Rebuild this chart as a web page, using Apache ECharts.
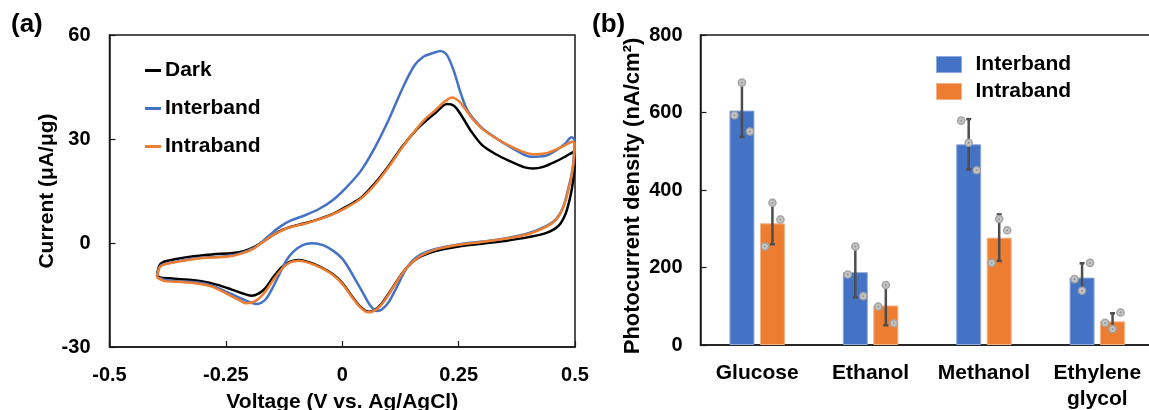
<!DOCTYPE html>
<html>
<head>
<meta charset="utf-8">
<script src="https://cdn.jsdelivr.net/npm/echarts@6/dist/echarts.min.js"></script>
<style>
  html, body { margin: 0; padding: 0; background: #fff; }
  #chart { width: 1149px; height: 410px; }
</style>
</head>
<body>
<div id="chart"></div>
<script>
// ---- (a) cyclic voltammograms: [potential (V vs. Ag/AgCl), current (µA/µg)] ----
const darkCurve = [
  [-0.398, -9.5], [-0.393, -6.5], [-0.385, -5.5], [-0.36, -4.7], [-0.33, -4.0],
  [-0.28, -3.3], [-0.235, -2.9], [-0.21, -2.3], [-0.19, -1.2], [-0.17, 0.4],
  [-0.15, 2.2], [-0.13, 3.7], [-0.11, 4.7], [-0.08, 5.7], [-0.05, 6.9],
  [-0.02, 8.4], [0.01, 10.6], [0.04, 13.0], [0.07, 17.2], [0.10, 22.3],
  [0.13, 28.0], [0.16, 32.8], [0.18, 35.3], [0.20, 37.5], [0.225, 40.1],
  [0.24, 39.6], [0.255, 37.0], [0.275, 32.6], [0.30, 28.3], [0.33, 25.6],
  [0.36, 23.6], [0.39, 21.9], [0.41, 21.5], [0.43, 21.9], [0.46, 23.6],
  [0.48, 25.0], [0.497, 26.3],
  [0.499, 22.0], [0.496, 18.0], [0.49, 13.4], [0.48, 8.5], [0.465, 5.0],
  [0.44, 3.0], [0.40, 1.7], [0.35, 0.6], [0.30, -0.2], [0.25, -1.0],
  [0.20, -2.3], [0.17, -3.8], [0.15, -5.6], [0.13, -8.5], [0.11, -12.5],
  [0.09, -16.5], [0.075, -18.8], [0.057, -19.8], [0.04, -18.5], [0.02, -15.2],
  [0.0, -11.5], [-0.02, -9.0], [-0.045, -7.0], [-0.07, -5.6], [-0.094, -4.9],
  [-0.112, -5.4], [-0.13, -7.0], [-0.15, -10.2], [-0.165, -13.0], [-0.18, -14.6],
  [-0.195, -15.2], [-0.215, -14.5], [-0.24, -13.3], [-0.27, -12.0], [-0.30, -11.1],
  [-0.34, -10.5], [-0.37, -10.2], [-0.39, -10.0], [-0.398, -9.5]
];
const interbandCurve = [
  [-0.398, -9.8], [-0.393, -7.0], [-0.385, -6.2], [-0.35, -5.2], [-0.30, -4.2],
  [-0.25, -3.8], [-0.22, -3.0], [-0.19, -1.4], [-0.17, 0.6], [-0.15, 3.0],
  [-0.13, 5.0], [-0.11, 6.5], [-0.08, 8.0], [-0.05, 9.8], [-0.02, 12.4],
  [0.01, 16.2], [0.04, 20.8], [0.07, 27.5], [0.10, 35.6], [0.13, 44.8],
  [0.155, 51.2], [0.175, 53.8], [0.195, 54.8], [0.211, 55.4], [0.225, 54.2],
  [0.24, 49.5], [0.255, 43.0], [0.27, 38.0], [0.297, 33.6], [0.32, 31.2],
  [0.347, 28.8], [0.38, 26.2], [0.405, 24.9], [0.435, 25.1], [0.46, 26.8],
  [0.48, 28.8], [0.492, 30.5], [0.499, 29.7],
  [0.497, 24.0], [0.493, 20.0], [0.487, 16.5], [0.475, 10.5], [0.46, 7.0],
  [0.44, 5.0], [0.40, 2.8], [0.35, 1.3], [0.30, 0.4], [0.25, -0.4],
  [0.20, -1.7], [0.17, -3.2], [0.15, -5.2], [0.135, -8.0], [0.118, -12.5],
  [0.10, -17.0], [0.085, -19.2], [0.075, -19.6], [0.06, -18.0], [0.045, -14.5],
  [0.03, -11.0], [0.015, -7.5], [0.0, -4.5], [-0.02, -2.2], [-0.04, -0.7],
  [-0.065, -0.1], [-0.085, -0.6], [-0.105, -2.5], [-0.12, -5.0], [-0.135, -9.0],
  [-0.15, -13.0], [-0.165, -16.3], [-0.183, -17.6], [-0.20, -17.0], [-0.22, -15.8],
  [-0.25, -14.0], [-0.28, -12.3], [-0.31, -11.4], [-0.35, -11.0], [-0.38, -10.7],
  [-0.398, -9.8]
];
const intrabandCurve = [
  [-0.398, -10.0], [-0.393, -7.2], [-0.385, -6.3], [-0.35, -5.3], [-0.30, -4.3],
  [-0.25, -4.0], [-0.22, -3.2], [-0.19, -1.6], [-0.17, 0.3], [-0.15, 2.2],
  [-0.13, 3.6], [-0.11, 4.6], [-0.08, 5.6], [-0.05, 6.8], [-0.02, 8.3],
  [0.01, 10.3], [0.04, 12.8], [0.07, 16.8], [0.10, 22.0], [0.13, 27.8],
  [0.16, 33.0], [0.18, 36.0], [0.20, 38.3], [0.22, 40.8], [0.236, 42.0],
  [0.25, 41.0], [0.265, 38.5], [0.28, 35.8], [0.30, 33.0], [0.33, 30.2],
  [0.36, 28.0], [0.39, 26.2], [0.41, 25.6], [0.435, 25.8], [0.46, 27.0],
  [0.48, 28.3], [0.496, 29.3], [0.499, 28.5],
  [0.497, 23.5], [0.493, 19.5], [0.487, 16.0], [0.475, 10.3], [0.46, 6.8],
  [0.44, 4.8], [0.40, 2.6], [0.35, 1.2], [0.30, 0.3], [0.25, -0.5],
  [0.20, -1.9], [0.17, -3.6], [0.15, -5.6], [0.13, -8.6], [0.11, -12.7],
  [0.09, -16.8], [0.075, -19.0], [0.057, -20.0], [0.04, -18.7], [0.02, -15.4],
  [0.0, -11.7], [-0.02, -9.2], [-0.045, -7.2], [-0.07, -5.8], [-0.094, -5.1],
  [-0.112, -5.6], [-0.13, -7.5], [-0.15, -11.0], [-0.168, -14.5], [-0.185, -16.6],
  [-0.205, -17.4], [-0.225, -16.2], [-0.25, -14.5], [-0.28, -12.6], [-0.31, -11.7],
  [-0.35, -11.2], [-0.38, -11.0], [-0.398, -10.0]
];

// ---- (b) photocurrent density (nA/cm²) ----
const substrates = ['Glucose', 'Ethanol', 'Methanol', 'Ethylene\nglycol'];
const interbandMean = [605, 188, 518, 174];
const interbandErr = [68, 65, 65, 37];
const intrabandMean = [314, 102, 277, 61];
const intrabandErr = [54, 51, 60, 21];
// individual measurements, three per substrate
const interbandPoints = [[593, 677, 551], [182, 254, 126], [579, 522, 451], [170, 140, 212]];
const intrabandPoints = [[254, 367, 324], [99, 155, 56], [212, 325, 296], [57, 41, 84]];

const FONT = "'Liberation Sans', Arial, sans-serif";
const BLUE = '#4472C4';
const ORANGE = '#ED7D31';
const BAR_W = 25;
const BAR_GAP = 5.5;
const BAR_SHIFT = (BAR_W + BAR_GAP) / 2;   // offset of each bar centre from the category centre
const JITTER = [-7.5, 0, 8];               // horizontal spread of the replicate dots

function errorBars(shift) {
  return function (params, api) {
    const c = api.value(0), m = api.value(1), e = api.value(2);
    const top = api.coord([c, m + e]);
    const bot = api.coord([c, m - e]);
    const x = top[0] + shift;
    const st = { stroke: '#4d4d4d', lineWidth: 2.5 };
    return {
      type: 'group',
      children: [
        { type: 'line', shape: { x1: x, y1: top[1], x2: x, y2: bot[1] }, style: st },
        { type: 'line', shape: { x1: x - 2.5, y1: top[1], x2: x + 2.5, y2: top[1] }, style: st },
        { type: 'line', shape: { x1: x - 2.5, y1: bot[1], x2: x + 2.5, y2: bot[1] }, style: st }
      ]
    };
  };
}
function replicateDots(shift) {
  return function (params, api) {
    const p = api.coord([api.value(0), api.value(1)]);
    const x = p[0] + shift + JITTER[api.value(2)];
    return {
      type: 'group',
      children: [
        { type: 'circle', shape: { cx: x, cy: p[1], r: 3.6 },
          style: { fill: '#c4c4c4', stroke: '#a2a2a2', lineWidth: 1.4 } },
        { type: 'circle', shape: { cx: x, cy: p[1], r: 0.9 }, style: { fill: '#8c8c8c' } }
      ]
    };
  };
}
function dotData(points) {
  const out = [];
  points.forEach((trip, i) => trip.forEach((v, k) => out.push([i, v, k])));
  return out;
}

const tickLabel = { color: '#000', fontFamily: FONT, fontWeight: 'bold', fontSize: 20 };
const axisTitle = { color: '#000', fontFamily: FONT, fontWeight: 'bold', fontSize: 21 };
const frameLine = { show: true, onZero: false, lineStyle: { color: '#1a1a1a', width: 1.5 } };

const option = {
  backgroundColor: '#fff',
  animation: false,
  title: [
    { text: '(a)', left: 6, top: 7, textStyle: { fontFamily: FONT, fontWeight: 'bold', fontSize: 26, color: '#000' } },
    { text: '(b)', left: 587, top: 7, textStyle: { fontFamily: FONT, fontWeight: 'bold', fontSize: 26, color: '#000' } }
  ],
  grid: [
    { left: 109.5, top: 35, width: 465.5, height: 312, outerBoundsMode: 'none', containLabel: false,
      show: true, borderColor: '#1a1a1a', borderWidth: 1.5 },
    { left: 700.5, top: 35, width: 453.5, height: 310, outerBoundsMode: 'none', containLabel: false,
      show: true, borderColor: '#1a1a1a', borderWidth: 1.5 }
  ],
  legend: [
    {
      left: 145, top: 60, padding: 0, orient: 'vertical', itemGap: 17, itemWidth: 16, itemHeight: 3,
      icon: 'rect', selectedMode: false,
      textStyle: { color: '#000', fontFamily: FONT, fontWeight: 'bold', fontSize: 21, padding: [0, 0, 0, -1] },
      data: [
        { name: 'Dark', itemStyle: { color: '#000' } },
        { name: 'Interband', itemStyle: { color: BLUE } },
        { name: 'Intraband', itemStyle: { color: ORANGE } }
      ]
    },
    {
      left: 936, top: 54, padding: 0, orient: 'vertical', itemGap: 6, itemWidth: 25, itemHeight: 16,
      icon: 'rect', selectedMode: false,
      textStyle: { color: '#000', fontFamily: FONT, fontWeight: 'bold', fontSize: 21, padding: [0, 0, 0, 9] },
      data: [
        { name: 'Interband', itemStyle: { color: BLUE, borderColor: '#8faadc', borderWidth: 1 } },
        { name: 'Intraband', itemStyle: { color: ORANGE, borderColor: '#f4b183', borderWidth: 1 } }
      ]
    }
  ],
  xAxis: [
    {
      gridIndex: 0, type: 'value', min: -0.5, max: 0.5, interval: 0.25,
      name: 'Voltage (V vs. Ag/AgCl)', nameLocation: 'middle', nameGap: 45, nameTextStyle: axisTitle,
      axisLine: frameLine,
      axisTick: { show: true, inside: true, length: 6, lineStyle: { color: '#1a1a1a', width: 1.2 } },
      axisLabel: { ...tickLabel, margin: 18 },
      splitLine: { show: false }
    },
    {
      gridIndex: 1, type: 'category', data: substrates,
      axisLine: frameLine,
      axisTick: { show: false },
      axisLabel: { ...tickLabel, fontSize: 21, margin: 15, lineHeight: 26, interval: 0 },
      splitLine: { show: false }
    }
  ],
  yAxis: [
    {
      gridIndex: 0, type: 'value', min: -30, max: 60, interval: 30,
      name: 'Current (μA/μg)', nameLocation: 'middle', nameGap: 52, nameRotate: 90, nameTextStyle: axisTitle,
      axisLine: frameLine,
      axisTick: { show: true, inside: true, length: 6, lineStyle: { color: '#1a1a1a', width: 1.2 } },
      axisLabel: { ...tickLabel, margin: 19 },
      splitLine: { show: false }
    },
    {
      gridIndex: 1, type: 'value', min: 0, max: 800, interval: 200,
      name: 'Photocurrent density (nA/cm²)', nameLocation: 'middle', nameGap: 57, nameRotate: 90,
      nameTextStyle: { ...axisTitle, fontSize: 22, padding: [0, 12, 0, 0] },
      axisLine: frameLine,
      axisTick: { show: true, inside: true, length: 6, lineStyle: { color: '#1a1a1a', width: 1.2 } },
      axisLabel: { ...tickLabel, margin: 18 },
      splitLine: { show: false }
    }
  ],
  series: [
    {
      name: 'Dark', type: 'line', xAxisIndex: 0, yAxisIndex: 0, data: darkCurve,
      showSymbol: false, smooth: 0.3, lineStyle: { color: '#000', width: 2.5 }, itemStyle: { color: '#000' }, z: 3
    },
    {
      name: 'Interband', type: 'line', xAxisIndex: 0, yAxisIndex: 0, data: interbandCurve,
      showSymbol: false, smooth: 0.3, lineStyle: { color: BLUE, width: 2.5 }, itemStyle: { color: BLUE }, z: 4
    },
    {
      name: 'Intraband', type: 'line', xAxisIndex: 0, yAxisIndex: 0, data: intrabandCurve,
      showSymbol: false, smooth: 0.3, lineStyle: { color: ORANGE, width: 2.5 }, itemStyle: { color: ORANGE }, z: 5
    },
    {
      name: 'Interband', type: 'bar', xAxisIndex: 1, yAxisIndex: 1, data: interbandMean,
      barWidth: BAR_W, barGap: (BAR_GAP / BAR_W * 100) + '%',
      itemStyle: { color: BLUE, borderColor: '#8faadc', borderWidth: 1 }
    },
    {
      name: 'Intraband', type: 'bar', xAxisIndex: 1, yAxisIndex: 1, data: intrabandMean,
      barWidth: BAR_W, barGap: (BAR_GAP / BAR_W * 100) + '%',
      itemStyle: { color: ORANGE, borderColor: '#f4b183', borderWidth: 1 }
    },
    {
      type: 'custom', xAxisIndex: 1, yAxisIndex: 1, z: 6,
      data: interbandMean.map((m, i) => [i, m, interbandErr[i]]),
      renderItem: errorBars(-BAR_SHIFT)
    },
    {
      type: 'custom', xAxisIndex: 1, yAxisIndex: 1, z: 6,
      data: intrabandMean.map((m, i) => [i, m, intrabandErr[i]]),
      renderItem: errorBars(BAR_SHIFT)
    },
    {
      type: 'custom', xAxisIndex: 1, yAxisIndex: 1, z: 7,
      data: dotData(interbandPoints), renderItem: replicateDots(-BAR_SHIFT)
    },
    {
      type: 'custom', xAxisIndex: 1, yAxisIndex: 1, z: 7,
      data: dotData(intrabandPoints), renderItem: replicateDots(BAR_SHIFT)
    }
  ]
};

const chart = echarts.init(document.getElementById('chart'), null, { renderer: 'canvas' });
chart.setOption(option);
</script>
</body>
</html>
